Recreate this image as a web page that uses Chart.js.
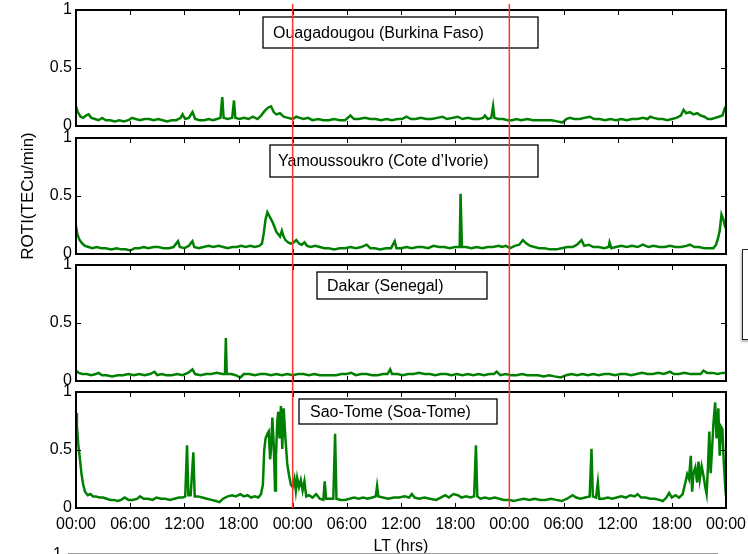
<!DOCTYPE html>
<html>
<head>
<meta charset="utf-8">
<script src="https://cdn.jsdelivr.net/npm/chart.js@4.4.1/dist/chart.umd.min.js"></script>
<style>
body{margin:0;width:748px;height:554px;overflow:hidden;background:#fff;position:relative;font-family:"Liberation Sans",Arial,sans-serif}
canvas{position:absolute;left:0}
.cut{position:absolute}
</style>
</head>
<body>
<canvas id="p1" width="748" height="146" style="top:-6px"></canvas>
<canvas id="p2" width="748" height="146" style="top:122px"></canvas>
<canvas id="p3" width="748" height="146" style="top:249px"></canvas>
<canvas id="p4" width="748" height="194" style="top:376px"></canvas>
<div class="cut" style="left:742px;top:249px;width:20px;height:89px;border:1.5px solid #222;box-shadow:-1px 2px 2px #bbb;background:#fff"></div>
<div class="cut" style="left:68px;top:553px;width:650px;height:1px;background:#999"></div>
<div class="cut" style="left:53px;top:545px;font-size:16px;line-height:18px">1</div>
<script>

const stations = ["Ouagadougou (Burkina Faso)", "Yamoussoukro (Cote d\u2019Ivorie)", "Dakar (Senegal)", "Sao-Tome (Soa-Tome)"]
const tickLabels = ["00:00","06:00","12:00","18:00","00:00","06:00","12:00","18:00","00:00","06:00","12:00","18:00","00:00"]
const yTicks = [0, 0.5, 1]
const dayBreaks = [24, 48]

// Ouagadougou
const ouagaHours = [0,0.2,0.5,0.8,1.1,1.4,1.7,2.1,2.5,2.9,3.3,3.8,4.3,4.8,5.3,5.8,6.2,6.6,7.1,7.6,8.1,8.6,9.1,9.6,10.1,10.6,11.1,11.6,11.8,12.1,12.5,12.9,13.2,13.7,14.2,14.7,15.2,15.6,16.0,16.2,16.35,16.8,17.3,17.5,17.65,18.1,18.6,19.1,19.6,20.1,20.5,20.9,21.3,21.6,21.9,22.2,22.6,23.0,23.5,24.0,24.4,24.8,25.2,25.7,26.2,26.8,27.4,28.0,28.6,29.2,29.8,30.4,30.8,31.3,32.0,32.6,33.2,33.8,34.4,35.0,35.6,36.1,36.6,37.1,37.6,38.2,38.8,39.4,40.0,40.6,41.1,41.7,42.3,42.8,43.4,44.0,44.6,45.1,45.3,45.6,46.0,46.2,46.35,46.8,47.3,47.8,48.3,48.8,49.3,50.0,50.6,51.3,52.0,52.7,53.3,53.9,54.3,54.7,55.2,55.8,56.3,56.9,57.4,58.0,58.6,59.2,59.8,60.4,61.0,61.6,62.2,62.8,63.3,63.6,64.0,64.5,65.0,65.5,66.0,66.5,67.0,67.3,67.6,68.0,68.4,68.8,69.2,69.6,70.0,70.4,70.8,71.2,71.6,71.85,72]
const ouagaRoti = [0.17,0.12,0.08,0.07,0.09,0.1,0.07,0.06,0.05,0.07,0.05,0.05,0.04,0.05,0.04,0.05,0.07,0.06,0.05,0.06,0.06,0.05,0.06,0.05,0.04,0.05,0.05,0.07,0.1,0.06,0.07,0.12,0.06,0.05,0.05,0.06,0.05,0.06,0.07,0.25,0.07,0.06,0.07,0.22,0.07,0.06,0.07,0.06,0.08,0.06,0.09,0.13,0.16,0.17,0.12,0.1,0.11,0.08,0.07,0.06,0.08,0.07,0.06,0.07,0.05,0.06,0.05,0.05,0.06,0.05,0.05,0.09,0.06,0.06,0.07,0.06,0.06,0.05,0.06,0.05,0.06,0.06,0.08,0.06,0.06,0.07,0.06,0.06,0.07,0.08,0.06,0.07,0.08,0.06,0.07,0.06,0.06,0.07,0.09,0.06,0.07,0.17,0.07,0.06,0.06,0.05,0.05,0.06,0.05,0.06,0.05,0.05,0.05,0.05,0.04,0.03,0.06,0.07,0.06,0.06,0.07,0.08,0.06,0.06,0.05,0.06,0.05,0.06,0.05,0.06,0.06,0.07,0.06,0.08,0.07,0.06,0.06,0.05,0.06,0.07,0.09,0.14,0.11,0.12,0.1,0.11,0.09,0.08,0.06,0.06,0.07,0.08,0.09,0.15,0.17]

// Yamoussoukro
const yamouHours = [0,0.15,0.4,0.7,1.0,1.4,1.8,2.3,2.8,3.3,3.9,4.5,5.0,5.5,6.0,6.5,7.0,7.5,8.0,8.6,9.1,9.7,10.3,10.8,11.3,11.5,12.0,12.5,12.9,13.1,13.6,14.1,14.7,15.2,15.8,16.3,16.8,17.3,17.8,18.3,18.8,19.3,19.8,20.3,20.6,20.8,21.0,21.2,21.4,21.6,21.8,22.0,22.2,22.4,22.6,22.8,23.0,23.2,23.5,23.8,24.1,24.4,24.7,25.0,25.3,25.6,26.0,26.5,27.0,27.5,28.0,28.6,29.2,29.8,30.4,31.0,31.6,32.2,32.6,33.1,33.7,34.3,34.9,35.3,35.5,36.0,36.6,37.2,37.8,38.4,39.0,39.6,40.2,40.8,41.4,42.0,42.5,42.6,42.75,43.2,43.8,44.4,45.0,45.6,46.2,46.8,47.2,47.6,48.1,48.6,49.1,49.5,49.9,50.3,50.8,51.3,51.9,52.5,53.2,53.8,54.4,55.0,55.5,56.0,56.3,56.8,57.3,57.9,58.5,59.0,59.1,59.3,59.8,60.4,61.0,61.6,62.2,62.8,63.4,64.0,64.6,65.2,65.8,66.4,67.0,67.6,68.0,68.5,69.0,69.6,70.2,70.6,70.9,71.1,71.3,71.5,71.7,71.85,72]
const yamouRoti = [0.24,0.17,0.12,0.09,0.07,0.06,0.05,0.06,0.05,0.05,0.04,0.05,0.04,0.04,0.03,0.05,0.05,0.06,0.05,0.06,0.06,0.05,0.05,0.06,0.11,0.06,0.05,0.07,0.11,0.06,0.05,0.06,0.07,0.06,0.07,0.06,0.05,0.06,0.06,0.07,0.06,0.07,0.06,0.07,0.09,0.18,0.3,0.36,0.33,0.3,0.27,0.23,0.19,0.17,0.15,0.2,0.15,0.12,0.1,0.09,0.1,0.12,0.09,0.08,0.1,0.07,0.06,0.07,0.06,0.05,0.05,0.04,0.05,0.05,0.06,0.05,0.06,0.08,0.05,0.05,0.04,0.05,0.05,0.11,0.05,0.05,0.06,0.05,0.06,0.06,0.05,0.07,0.06,0.06,0.05,0.06,0.06,0.52,0.06,0.06,0.05,0.06,0.05,0.06,0.06,0.07,0.06,0.07,0.05,0.07,0.08,0.12,0.09,0.07,0.06,0.05,0.05,0.04,0.04,0.05,0.06,0.06,0.08,0.12,0.07,0.08,0.06,0.06,0.05,0.06,0.1,0.05,0.06,0.07,0.06,0.07,0.06,0.08,0.06,0.07,0.06,0.06,0.07,0.06,0.06,0.07,0.08,0.06,0.06,0.05,0.05,0.05,0.08,0.13,0.2,0.34,0.3,0.25,0.22]

// Dakar
const dakarHours = [0,0.3,0.7,1.2,1.7,2.2,2.5,2.9,3.4,4.0,4.6,5.2,5.8,6.4,7.0,7.6,8.2,8.7,9.0,9.5,10.0,10.6,11.2,11.8,12.4,12.9,13.2,13.8,14.4,15.0,15.6,16.2,16.5,16.6,16.7,17.2,17.7,18.2,18.6,19.2,19.8,20.4,21.0,21.6,22.2,22.8,23.4,24.0,24.6,25.2,25.8,26.4,27.0,27.6,28.2,28.8,29.4,30.0,30.5,31.0,31.6,32.2,32.8,33.4,34.0,34.5,34.8,35.0,35.6,36.2,36.8,37.4,38.0,38.6,39.2,39.8,40.4,41.0,41.6,42.2,42.8,43.4,44.0,44.6,45.2,45.8,46.3,46.6,47.0,47.6,48.2,48.8,49.4,50.0,50.6,51.2,51.8,52.4,53.0,53.7,54.3,54.9,55.5,56.1,56.7,57.3,57.9,58.5,59.1,59.7,60.3,60.9,61.5,62.1,62.7,63.3,63.9,64.5,65.1,65.8,66.2,66.8,67.4,68.0,68.6,69.2,69.5,69.9,70.5,71.1,71.6,72]
const dakarRoti = [0.09,0.07,0.06,0.06,0.05,0.06,0.07,0.05,0.05,0.04,0.05,0.05,0.06,0.05,0.06,0.05,0.06,0.08,0.05,0.06,0.05,0.05,0.06,0.05,0.07,0.1,0.06,0.05,0.06,0.06,0.07,0.06,0.06,0.37,0.06,0.06,0.05,0.03,0.06,0.06,0.05,0.06,0.06,0.05,0.06,0.05,0.06,0.05,0.06,0.06,0.05,0.06,0.05,0.05,0.05,0.05,0.06,0.06,0.07,0.05,0.06,0.06,0.05,0.05,0.06,0.06,0.1,0.06,0.06,0.05,0.06,0.06,0.07,0.06,0.06,0.05,0.06,0.06,0.05,0.06,0.05,0.06,0.05,0.06,0.05,0.06,0.06,0.08,0.05,0.06,0.05,0.05,0.06,0.05,0.05,0.05,0.04,0.05,0.04,0.03,0.05,0.06,0.05,0.06,0.05,0.06,0.05,0.06,0.06,0.05,0.06,0.06,0.05,0.06,0.07,0.06,0.06,0.07,0.06,0.08,0.06,0.06,0.07,0.06,0.06,0.06,0.09,0.07,0.07,0.06,0.07,0.07]

// Sao-Tome
const saoHours = [0,0.1,0.25,0.4,0.6,0.8,1.0,1.3,1.6,1.9,2.2,2.6,3.0,3.4,3.8,4.2,4.6,5.0,5.4,5.8,6.3,6.8,7.1,7.5,8.0,8.5,8.9,9.4,9.9,10.4,10.9,11.4,11.8,12.1,12.3,12.45,12.7,13.0,13.15,13.5,14.0,14.5,15.0,15.5,15.9,16.3,16.8,17.3,17.7,18.2,18.6,19.0,19.4,19.8,20.2,20.5,20.7,20.85,21.0,21.2,21.35,21.5,21.6,21.75,21.9,22.05,22.15,22.3,22.4,22.55,22.7,22.85,23.0,23.2,23.4,23.6,23.8,24.0,24.2,24.35,24.5,24.7,24.9,25.1,25.3,25.5,25.8,26.2,26.6,27.0,27.4,27.55,27.7,28.1,28.5,28.7,28.85,29.3,29.8,30.3,30.8,31.3,31.8,32.3,32.8,33.2,33.35,33.5,34.0,34.6,35.2,35.8,36.4,36.9,37.2,37.5,38.0,38.6,39.2,39.9,40.4,40.9,41.3,41.8,42.3,42.7,43.2,43.7,44.1,44.3,44.45,44.8,45.3,45.8,46.4,46.9,47.4,48.0,48.5,49.0,49.6,50.2,50.8,51.4,52.0,52.6,53.2,53.8,54.4,55.0,55.4,55.9,56.4,56.9,57.1,57.25,57.6,57.8,57.95,58.4,58.9,59.4,59.9,60.4,60.9,61.4,61.9,62.2,62.6,63.1,63.6,64.1,64.6,65.0,65.4,65.7,66.0,66.4,66.8,67.2,67.5,67.7,67.9,68.1,68.25,68.4,68.6,68.8,68.95,69.1,69.3,69.5,69.7,69.85,70.0,70.15,70.3,70.45,70.6,70.8,70.95,71.15,71.3,71.45,71.6,71.75,71.9,72]
const saoRoti = [0.82,0.71,0.55,0.45,0.3,0.2,0.14,0.11,0.12,0.1,0.1,0.09,0.09,0.08,0.07,0.07,0.06,0.07,0.09,0.07,0.07,0.08,0.1,0.08,0.08,0.07,0.09,0.08,0.08,0.07,0.08,0.09,0.09,0.1,0.54,0.11,0.11,0.48,0.1,0.1,0.09,0.08,0.07,0.06,0.05,0.08,0.1,0.11,0.1,0.12,0.1,0.11,0.09,0.1,0.09,0.12,0.2,0.5,0.6,0.64,0.66,0.42,0.5,0.78,0.55,0.15,0.45,0.75,0.83,0.6,0.88,0.51,0.86,0.6,0.38,0.28,0.2,0.18,0.25,0.15,0.26,0.18,0.24,0.15,0.23,0.1,0.11,0.09,0.12,0.08,0.07,0.23,0.08,0.08,0.08,0.64,0.08,0.07,0.07,0.08,0.09,0.08,0.09,0.08,0.09,0.1,0.19,0.1,0.09,0.08,0.09,0.09,0.1,0.09,0.12,0.09,0.08,0.09,0.08,0.07,0.09,0.11,0.09,0.12,0.11,0.09,0.1,0.09,0.1,0.54,0.1,0.08,0.09,0.08,0.09,0.08,0.07,0.07,0.06,0.07,0.08,0.07,0.08,0.07,0.07,0.08,0.07,0.06,0.08,0.11,0.09,0.08,0.09,0.1,0.51,0.1,0.09,0.22,0.08,0.08,0.09,0.08,0.09,0.1,0.09,0.11,0.1,0.12,0.09,0.09,0.08,0.08,0.07,0.06,0.09,0.13,0.09,0.11,0.09,0.12,0.22,0.29,0.25,0.45,0.14,0.3,0.35,0.22,0.4,0.25,0.36,0.28,0.18,0.12,0.35,0.66,0.3,0.5,0.72,0.91,0.6,0.86,0.45,0.7,0.68,0.4,0.2,0.1]

const FONT = "'Liberation Sans', Arial, sans-serif"
Chart.defaults.font.family = FONT
Chart.defaults.font.size = 16
Chart.defaults.color = "#000"

// frame, inward ticks, station box and the red day lines
const decor = {
  id: "decor",
  afterDraw(chart, args, opts){
    const {ctx, chartArea:a, scales:{x, y}} = chart
    ctx.save()
    ctx.strokeStyle = "#000"
    ctx.lineWidth = 1
    ctx.beginPath()
    x.ticks.forEach(t => {
      const px = Math.round(x.getPixelForValue(t.value)) + 0.5
      ctx.moveTo(px, a.top); ctx.lineTo(px, a.top + 5)
      ctx.moveTo(px, a.bottom); ctx.lineTo(px, a.bottom - 5)
    })
    const py = Math.round(y.getPixelForValue(0.5)) + 0.5
    ctx.moveTo(a.left, py); ctx.lineTo(a.left + 5, py)
    ctx.moveTo(a.right, py); ctx.lineTo(a.right - 5, py)
    ctx.stroke()
    ctx.lineWidth = 2
    ctx.strokeRect(a.left, a.top, a.right - a.left, a.bottom - a.top)

    const [bx, by, bw, bh, pad] = opts.box
    ctx.fillStyle = "#fff"
    ctx.fillRect(a.left + bx, a.top + by, bw, bh)
    ctx.lineWidth = 1.3
    ctx.strokeRect(a.left + bx, a.top + by, bw, bh)
    ctx.fillStyle = "#000"
    ctx.font = "16px " + FONT
    ctx.textBaseline = "middle"
    ctx.fillText(opts.name, a.left + bx + pad, a.top + by + bh / 2 + 1)

    ctx.strokeStyle = "#ff3030"
    ctx.lineWidth = 1.5
    dayBreaks.forEach(h => {
      const px = x.getPixelForValue(h)
      ctx.beginPath()
      ctx.moveTo(px, a.top - opts.up)
      ctx.lineTo(px, a.bottom)
      ctx.stroke()
    })
    ctx.restore()
  }
}

const panels = [
  {id:"p1", name:stations[0], hours:ouagaHours, roti:ouagaRoti, box:[187,7,275,31,10], up:6},
  {id:"p2", name:stations[1], hours:yamouHours, roti:yamouRoti, box:[194,7,268,32,8], up:13, ytitle:true},
  {id:"p3", name:stations[2], hours:dakarHours, roti:dakarRoti, box:[241,7,170,27,10], up:13},
  {id:"p4", name:stations[3], hours:saoHours, roti:saoRoti, box:[223,7,198,25,11], up:13, bottom:true}
]

panels.forEach(p => {
  new Chart(document.getElementById(p.id), {
    type: "line",
    data: {
      datasets: [{
        data: p.hours.map((h, i) => ({x: h, y: p.roti[i]})),
        borderColor: "#008000",
        borderWidth: 2.5,
        pointRadius: 0,
        tension: 0,
        fill: false
      }]
    },
    options: {
      responsive: false,
      devicePixelRatio: 1,
      animation: false,
      events: [],
      layout: {padding: {left: 0, right: 22, top: 16, bottom: 0}},
      plugins: {
        legend: {display: false},
        tooltip: {enabled: false},
        decor: {name: p.name, box: p.box, up: p.up}
      },
      scales: {
        x: {
          type: "linear",
          min: 0,
          max: 72,
          grid: {display: false, drawTicks: false},
          border: {display: false},
          ticks: {
            display: !!p.bottom,
            stepSize: 6,
            autoSkip: false,
            maxRotation: 0,
            padding: 7,
            callback: v => tickLabels[Math.round(v / 6)]
          },
          title: {display: !!p.bottom, text: "LT (hrs)", font: {size: 16}, padding: {top: 0, bottom: 14}},
          afterFit: s => { s.height = p.bottom ? 62 : 14; s.paddingLeft = 0; s.paddingRight = 0 }
        },
        y: {
          min: 0,
          max: 1,
          grid: {display: false, drawTicks: false},
          border: {display: false},
          afterBuildTicks: s => { s.ticks = yTicks.map(v => ({value: v})) },
          ticks: {padding: 4, callback: v => String(v)},
          title: {display: !!p.ytitle, text: "ROTI(TECu/min)", font: {size: 17}, padding: {top: 18, bottom: 0}},
          afterFit: s => { s.width = 76 }
        }
      }
    },
    plugins: [decor]
  })
})
</script>
</body>
</html>
